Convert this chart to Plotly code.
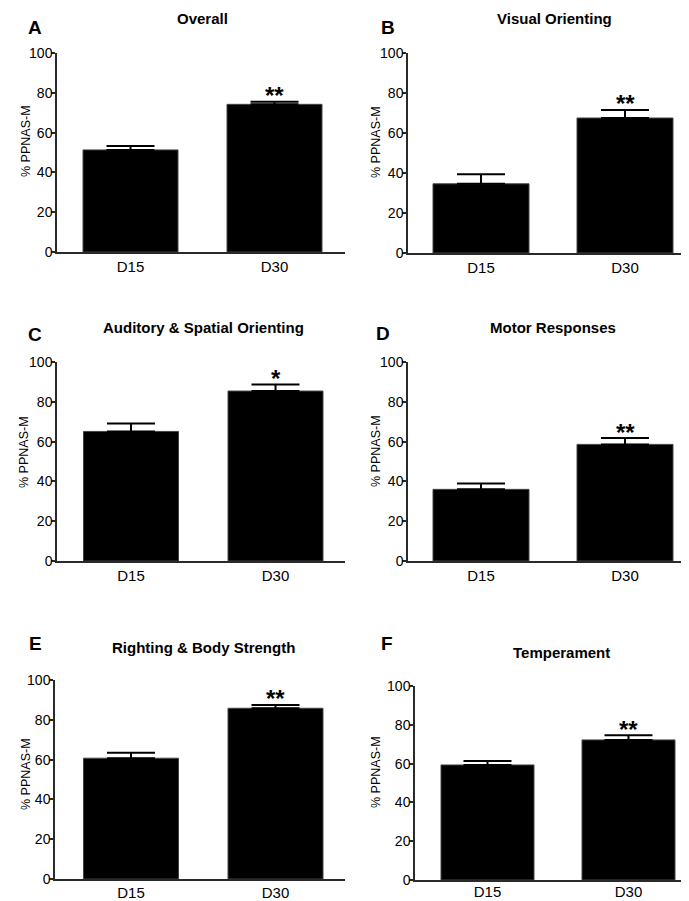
import plotly.graph_objects as go

# page offset of the plot div inside the browser body (default 8px body margin)
O = 8
W, H = 689 - O, 901 - O

categories = ["D15", "D30"]
panel_letters = ["A", "B", "C", "D", "E", "F"]
panel_titles = ["Overall", "Visual Orienting", "Auditory & Spatial Orienting",
                "Motor Responses", "Righting & Body Strength", "Temperament"]
means_A = [51.3, 74.2]; sem_A = [2.0, 1.3]
means_B = [34.6, 67.5]; sem_B = [4.8, 4.0]
means_C = [65.1, 85.4]; sem_C = [4.0, 3.3]
means_D = [36.0, 58.6]; sem_D = [2.9, 3.2]
means_E = [60.7, 85.8]; sem_E = [2.8, 1.7]
means_F = [59.3, 72.2]; sem_F = [2.1, 2.4]
significance = ["**", "**", "*", "**", "**", "**"]
y_ticks = [0, 20, 40, 60, 80, 100]
y_label = "% PPNAS-M"

means = [means_A, means_B, means_C, means_D, means_E, means_F]
sems = [sem_A, sem_B, sem_C, sem_D, sem_E, sem_F]

# layout geometry in page pixels: (x_left, x_right, y_top, y_bottom, center1, center2, barwidth_px)
geom = [
    (57, 345, 53, 252, 130.5, 274.5, 95),
    (408, 689, 53, 253, 481, 625, 96),
    (57, 345, 362, 561, 131, 275.5, 95),
    (408, 689, 362, 561, 481, 625, 96),
    (55, 345, 680, 879, 131, 275.5, 95),
    (415, 689, 686, 880, 487.5, 628.5, 93),
]
xlabel_standoff = [0, 0, 0, 0, -1, -3]
title_pos = [(202, 18), (554, 18), (203, 328), (553, 328), (203, 647), (561, 652)]
letter_pos = [(35, 27), (388, 27), (35, 334), (383, 333), (35, 643), (387, 643)]
ytitle_pos = [(26, 141), (376, 142), (24, 452), (376, 451), (26, 774), (376, 772)]


def px(x):
    return (x - O) / W


def py(y):
    return 1 - (y - O) / H


FONT = "Arial, Liberation Sans, sans-serif"
AX = "#2a2a2a"

fig = go.Figure()
layout = dict(
    width=W, height=H, margin=dict(l=0, r=0, t=0, b=0, autoexpand=False),
    paper_bgcolor="white", plot_bgcolor="white", showlegend=False,
    font=dict(family=FONT, color="black"),
)
annotations = []
for i in range(6):
    xl, xr, yt, yb, c1, c2, bw = geom[i]
    sp = c2 - c1
    xr0 = -(c1 - xl) / sp
    xr1 = 1 + (xr - c2) / sp
    suffix = "" if i == 0 else str(i + 1)
    fig.add_trace(go.Bar(
        x=categories, y=means[i], width=bw / sp,
        marker=dict(color="black", line=dict(color="#444", width=1)),
        error_y=dict(type="data", array=sems[i], arrayminus=[0, 0], symmetric=False,
                     color="black", thickness=2, width=24),
        xaxis="x" + suffix, yaxis="y" + suffix,
    ))
    layout["xaxis" + suffix] = dict(
        domain=[px(xl), min(1, px(xr))], anchor="y" + suffix, type="category",
        range=[xr0, xr1], showline=True, linecolor=AX, linewidth=1.5,
        ticks="", showgrid=False, zeroline=False, automargin=False,
        ticklabelstandoff=xlabel_standoff[i],
        tickfont=dict(size=15, family=FONT, color="black"),
    )
    layout["yaxis" + suffix] = dict(
        domain=[py(yb), py(yt)], anchor="x" + suffix,
        range=[0, 100], tickvals=y_ticks, showline=True, linecolor=AX, linewidth=1.5,
        ticks="outside", ticklen=4, tickwidth=1.5, tickcolor=AX,
        showgrid=False, zeroline=False, automargin=False,
        ticklabelstandoff=-4,
        tickfont=dict(size=14, family=FONT, color="black"),
    )
    # y-axis title
    ax_, ay_ = ytitle_pos[i]
    annotations.append(dict(
        x=px(ax_), y=py(ay_), xref="paper", yref="paper", text=y_label,
        textangle=-90, showarrow=False, xanchor="center", yanchor="middle",
        font=dict(size=12.5, family=FONT, color="black"),
    ))
    # significance stars
    annotations.append(dict(
        x=categories[1], y=means[i][1] + sems[i][1] + 3,
        xref="x" + suffix, yref="y" + suffix, text="<b>" + significance[i] + "</b>",
        showarrow=False, yanchor="middle", xanchor="center",
        font=dict(size=24, family=FONT, color="black"),
    ))
    tx, ty = title_pos[i]
    annotations.append(dict(
        x=px(tx), y=py(ty), xref="paper", yref="paper",
        text="<b>" + panel_titles[i] + "</b>", showarrow=False,
        xanchor="center", yanchor="middle",
        font=dict(size=15, family=FONT, color="black"),
    ))
    lx, ly = letter_pos[i]
    annotations.append(dict(
        x=px(lx), y=py(ly), xref="paper", yref="paper",
        text="<b>" + panel_letters[i] + "</b>", showarrow=False,
        xanchor="center", yanchor="middle",
        font=dict(size=19, family=FONT, color="black"),
    ))
layout["annotations"] = annotations
fig.update_layout(**layout)
fig.write_html("out.html")
